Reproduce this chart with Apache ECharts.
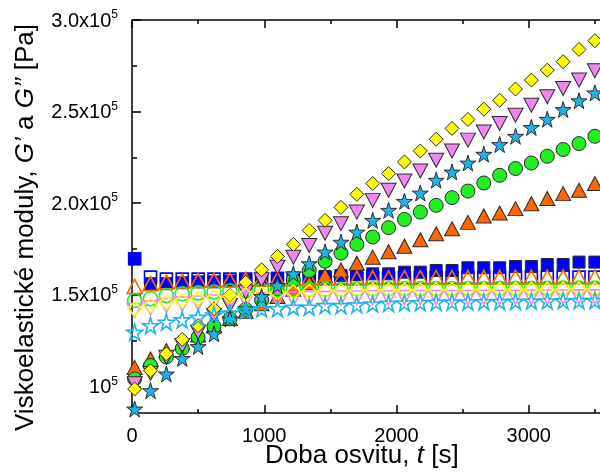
<!DOCTYPE html>
<html>
<head>
<meta charset="utf-8">
<script src="https://cdn.jsdelivr.net/npm/echarts@6/dist/echarts.min.js"></script>
<style>
  html, body { margin: 0; padding: 0; background: #fff; }
  #chart { width: 600px; height: 475px; }
</style>
</head>
<body>
<div id="chart"></div>
<script>
// Exposure time [s]
const time = [20, 140, 260, 380, 500, 620, 740, 860, 980, 1100, 1220, 1340, 1460, 1580, 1700,
  1820, 1940, 2060, 2180, 2300, 2420, 2540, 2660, 2780, 2900, 3020, 3140, 3260, 3380, 3500];

// Storage modulus G' [Pa] (filled symbols)
const gpSquare = [169600,156000,156000,156500,157000,157000,157500,158000,158500,159000,159000,159500,160000,160500,161000,161400,161400,162300,162300,163200,163200,164700,164700,164700,165400,165400,166500,166500,167800,167800];
const gpTriangle = [110300,114900,119500,124000,128000,133000,137000,141000,145000,149000,153000,156500,160500,163500,167200,170500,173500,176500,180000,183300,186000,189500,193000,194600,197000,199700,202500,205200,207000,210700];
const gpCircle = [104000,111300,116000,120600,126800,132600,136800,142000,147000,153000,158000,163200,168300,172700,177500,181500,186600,191100,195100,198800,203000,206600,211000,215200,218900,221900,225600,229300,232500,236500];
const gpDownTriangle = [101400,107000,115800,122200,129500,138600,144100,151400,158100,165000,170500,176900,183600,188800,195100,201500,207000,212100,217600,223400,228500,234400,238900,243500,248000,253500,258100,262600,267200,272300];
const gpDiamond = [98500,108500,117700,125600,133100,142300,149600,156800,163600,170900,177500,185100,190600,197700,204800,210700,216100,222500,228500,234900,240800,245700,251300,256200,262300,267200,272600,277200,283900,288700];
const gpStar = [87600,97600,106700,115200,121700,128600,136800,142300,149000,155000,161400,166900,173300,178700,184200,190600,196100,201000,205500,212500,217000,221900,226700,232000,236500,241300,245800,251100,255900,260200];

// Loss modulus G'' [Pa] (open symbols)
const gppSquare = [169600,159600,158500,158500,158500,158500,158500,158500,158800,158800,158800,159000,159000,159000,159000,159200,159200,159200,159300,159300,159300,159500,159500,159500,159500,159600,159600,159600,159600,159600];
const gppTriangle = [154500,156000,157000,157500,157800,158000,158000,158300,158500,158500,158700,158800,159000,159000,159000,159200,159200,159300,159300,159400,159400,159500,159500,159500,159600,159600,159600,159700,159700,159700];
const gppCircle = [146800,147800,149600,150500,151000,151500,152000,152200,152500,152500,152800,152800,153000,153000,153200,153200,153200,153300,153300,153300,153400,153400,153400,153500,153500,153500,153500,153600,153600,153600];
const gppDownTriangle = [141400,142800,144100,145000,145500,146000,146500,147000,147200,147500,147700,148000,148000,148200,148200,148300,148300,148400,148400,148500,148500,148500,148600,148600,148600,148700,148700,148700,148800,148800];
const gppDiamond = [142300,144100,145900,146800,147800,148500,149000,150000,150500,151000,151500,151800,152000,152200,152400,152500,152500,152600,152600,152700,152700,152800,152800,152800,152900,152900,152900,153000,153000,153000];
const gppStar = [129500,133100,135000,136300,137700,139000,140000,141400,142300,142400,143200,143200,144100,144100,144500,145000,145300,145500,145700,145900,146000,146100,146200,146300,146400,146500,146600,146700,146800,146800];

// Axis ticks
const xTicks = [0, 1000, 2000, 3000];
const yMajorTicks = [100000, 150000, 200000, 250000, 300000];
const yMinorTicks = [125000, 175000, 225000, 275000];

const FONT = '"Liberation Sans", Arial, sans-serif';
const STAR = 'path://M50,0 L61.2,35.5 L98.5,35.5 L68.3,57.4 L79.4,93 L50,71 L20.6,93 L31.7,57.4 L1.5,35.5 L38.8,35.5 Z';

const pairs = (ys) => time.map((t, i) => [t, ys[i]]);

function filled(name, ys, symbol, size, color, rotate) {
  return {
    name: name, type: 'scatter', data: pairs(ys),
    symbol: symbol, symbolSize: size, symbolRotate: rotate || 0,
    itemStyle: { color: color, borderColor: '#2a2a2a', borderWidth: 1, opacity: 1 },
    emphasis: { disabled: true }
  };
}
function open(name, ys, symbol, size, color, rotate) {
  return {
    name: name, type: 'scatter', data: pairs(ys),
    symbol: symbol, symbolSize: size, symbolRotate: rotate || 0,
    itemStyle: { color: 'rgba(255,255,255,0)', borderColor: color, borderWidth: 1.6, opacity: 1 },
    emphasis: { disabled: true }
  };
}

const BLUE = '#0000ff', ORANGE = '#ff6600', GREEN = '#22ee22', VIOLET = '#ee88ee', YELLOW = '#ffff00', CYAN = '#1fb4e8';

function yLabel(v) {
  if (Math.abs(v - 100000) < 1) return '{b|10}{s|5}';
  return '{b|' + (v / 100000).toFixed(1) + 'x10}{s|5}';
}

const chart = echarts.init(document.getElementById('chart'), null, { renderer: 'canvas' });
chart.setOption({
  animation: false,
  backgroundColor: '#ffffff',
  grid: { left: 132, top: 20, width: 529, height: 393, containLabel: false, outerBoundsMode: 'none' },
  xAxis: [{
    type: 'value', min: 0, max: 4000, interval: 1000, position: 'bottom',
    axisLine: { lineStyle: { color: '#000', width: 1.5 } },
    axisTick: { inside: true, length: 8, lineStyle: { color: '#000', width: 1.5 } },
    minorTick: { show: true, splitNumber: 2, length: 4, lineStyle: { color: '#000', width: 1.5 } },
    splitLine: { show: false },
    axisLabel: { margin: 13, color: '#000', fontSize: 20, fontFamily: FONT,
      customValues: xTicks, formatter: (v) => String(v) }
  }, {
    type: 'value', min: 0, max: 4000, interval: 1000, position: 'top',
    axisLine: { lineStyle: { color: '#000', width: 1.5 } },
    axisTick: { inside: true, length: 8, lineStyle: { color: '#000', width: 1.5 } },
    minorTick: { show: true, splitNumber: 2, length: 4, lineStyle: { color: '#000', width: 1.5 } },
    splitLine: { show: false },
    axisLabel: { show: false }
  }],
  yAxis: [{
    type: 'value', min: 85400, max: 300000, position: 'left',
    axisLine: { show: true, onZero: false, lineStyle: { color: '#000', width: 1.5 } },
    axisTick: { inside: true, length: 9, customValues: yMajorTicks, lineStyle: { color: '#000', width: 1.5 } },
    splitLine: { show: false },
    axisLabel: {
      margin: 14, customValues: yMajorTicks, formatter: yLabel,
      rich: {
        b: { fontSize: 20, fontFamily: FONT, color: '#000', lineHeight: 22, verticalAlign: 'bottom' },
        s: { fontSize: 12, fontFamily: FONT, color: '#000', lineHeight: 22, verticalAlign: 'top' }
      }
    }
  }, {
    type: 'value', min: 85400, max: 300000, position: 'left',
    axisLine: { show: false },
    axisTick: { inside: true, length: 5, customValues: yMinorTicks, lineStyle: { color: '#000', width: 1.5 } },
    splitLine: { show: false },
    axisLabel: { show: false }
  }],
  series: [
    filled("G' square", gpSquare, 'rect', 12, BLUE),
    open("G'' square", gppSquare, 'rect', 12, BLUE),
    filled("G' triangle", gpTriangle, 'triangle', [15, 14], ORANGE),
    open("G'' triangle", gppTriangle, 'triangle', [15, 14], ORANGE),
    filled("G' circle", gpCircle, 'circle', 14, GREEN),
    open("G'' circle", gppCircle, 'circle', 14, GREEN),
    filled("G' down-triangle", gpDownTriangle, 'triangle', [15, 14], VIOLET, 180),
    open("G'' down-triangle", gppDownTriangle, 'triangle', [15, 14], VIOLET, 180),
    filled("G' diamond", gpDiamond, 'diamond', 14, YELLOW),
    open("G'' diamond", gppDiamond, 'diamond', 14, YELLOW),
    filled("G' star", gpStar, STAR, 16, CYAN),
    open("G'' star", gppStar, STAR, 16, CYAN)
  ],
  graphic: [{
    type: 'text', left: 265, top: 443,
    style: {
      text: '{n|Doba osvitu, }{i|t}{n| [s]}',
      rich: {
        n: { fontSize: 26, fontFamily: FONT, fill: '#000' },
        i: { fontSize: 26, fontFamily: FONT, fill: '#000', fontStyle: 'italic' }
      }
    }
  }, {
    type: 'text', x: 13, y: 431, rotation: Math.PI / 2,
    style: {
      text: '{n|Viskoelastické moduly, }{i|G’}{n| a }{i|G’’}{n| [Pa]}',
      rich: {
        n: { fontSize: 26, fontFamily: FONT, fill: '#000' },
        i: { fontSize: 26, fontFamily: FONT, fill: '#000', fontStyle: 'italic' }
      }
    }
  }]
});
</script>
</body>
</html>
